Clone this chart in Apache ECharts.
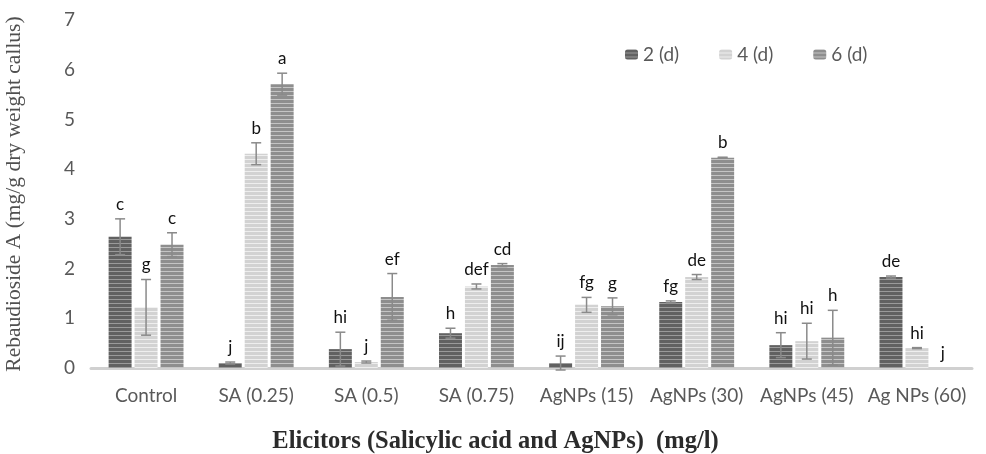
<!DOCTYPE html>
<html><head><meta charset="utf-8">
<script src="https://cdn.jsdelivr.net/npm/echarts@6/dist/echarts.min.js"></script>
<style>html,body{margin:0;padding:0;background:#fff}#c{width:986px;height:454px}</style>
</head><body><div id="c"></div>
<script>
const categories = ['Control','SA (0.25)','SA (0.5)','SA (0.75)','AgNPs (15)','AgNPs (30)','AgNPs (45)','Ag NPs (60)'];
const seriesNames = ['2 (d)','4 (d)','6 (d)'];
const d2 = [2.64, 0.10, 0.38, 0.70, 0.10, 1.33, 0.46, 1.83];
const d4 = [1.22, 4.31, 0.12, 1.64, 1.27, 1.83, 0.54, 0.40];
const d6 = [2.48, 5.71, 1.43, 2.07, 1.24, 4.23, 0.61, 0.00];
const e2 = [0.36, 0.02, 0.34, 0.10, 0.14, 0.02, 0.25, 0.02];
const e4 = [0.56, 0.22, 0.02, 0.05, 0.15, 0.05, 0.36, 0.01];
const e6 = [0.24, 0.22, 0.47, 0.03, 0.17, 0.01, 0.55, 0.00];
const l2 = ['c','j','hi','h','ij','fg','hi','de'];
const l4 = ['g','b','j','def','fg','de','hi','hi'];
const l6 = ['c','a','ef','cd','g','b','h','j'];
const yTicks = [0,1,2,3,4,5,6,7];

function stripe(base, line){
  const cv = document.createElement('canvas');
  cv.width = 4; cv.height = 4;
  const ctx = cv.getContext('2d');
  ctx.fillStyle = base; ctx.fillRect(0,0,4,4);
  ctx.fillStyle = line; ctx.fillRect(0,3,4,1);
  return {image: cv, repeat: 'repeat'};
}
const fills = [stripe('#616161','#9a9a9a'), stripe('#d2d2d2','#eeeeee'), stripe('#8e8e8e','#c4c4c4')];

const vals = [d2,d4,d6], errs=[e2,e4,e6], lets=[l2,l4,l6];
const CAT_GAP = 0.32, BAR_GAP = 0.13;

const series = [];
vals.forEach((v,i)=>{
  series.push({name: seriesNames[i], type:'bar', data: v, barCategoryGap: (CAT_GAP*100)+'%', barGap:(BAR_GAP*100)+'%',
    itemStyle:{color: fills[i]}, emphasis:{disabled:true}});
});
vals.forEach((v,i)=>{
  series.push({type:'custom', z:5, silent:true,
    data: v.map((val,k)=>[k, val, errs[i][k]]),
    renderItem: function(params, api){
      const ci = api.value(0), val = api.value(1), e = api.value(2);
      const band = api.size([1,0])[0];
      const group = band*(1-CAT_GAP);
      const bw = group/(3+2*BAR_GAP);
      const off = (i-1)*(bw*(1+BAR_GAP));
      const top = api.coord([ci, val+e]);
      const bot = api.coord([ci, val-e]);
      const x = top[0]+off;
      const cap = 5;
      const st = {stroke:'#8a8a8a', lineWidth:1.5};
      const ch = [];
      if (e > 0){
        ch.push({type:'line', shape:{x1:x,y1:top[1],x2:x,y2:bot[1]}, style:st});
        ch.push({type:'line', shape:{x1:x-cap,y1:top[1],x2:x+cap,y2:top[1]}, style:st});
        ch.push({type:'line', shape:{x1:x-cap,y1:bot[1],x2:x+cap,y2:bot[1]}, style:st});
      }
      ch.push({type:'text', style:{text: lets[i][ci], x:x, y:top[1]-6, align:'center', verticalAlign:'bottom',
        fill:'#111', font:'17px Lato'}});
      return {type:'group', children: ch};
    }
  });
});

const chart = echarts.init(document.getElementById('c'), null, {renderer:'canvas'});
chart.setOption({
  animation:false,
  backgroundColor:'#fff',
  grid:{left:91, right:14, top:20, bottom:86, containLabel:false, outerBoundsMode:'none'},
  legend:{data: seriesNames, top:40, left:620, itemWidth:13, itemHeight:10, itemGap:40,
    textStyle:{color:'#595959', fontSize:19, fontFamily:'Lato'}},
  xAxis:{type:'category', data: categories,
    axisLine:{lineStyle:{color:'#d0d0d0', width:3}}, axisTick:{show:false},
    axisLabel:{color:'#595959', fontSize:19, fontFamily:'Lato', margin:18, interval:0},
    name:'Elicitors (Salicylic acid and AgNPs)  (mg/l)', nameLocation:'middle', nameGap:61,
    nameTextStyle:{fontFamily:'Liberation Serif', fontWeight:'bold', fontSize:24.5, color:'#2b2b2b', padding:[0,72,0,0]}},
  yAxis:{type:'value', min:yTicks[0], max:yTicks[yTicks.length-1], interval:1,
    axisLine:{show:false}, axisTick:{show:false}, splitLine:{show:false},
    axisLabel:{color:'#595959', fontSize:19, fontFamily:'Lato', margin:16},
    name:'Rebaudioside A (mg/g dry weight callus)', nameLocation:'middle', nameGap:66,
    nameTextStyle:{fontFamily:'Liberation Serif', fontSize:21.5, color:'#505050'}},
  series: series
});
</script></body></html>
